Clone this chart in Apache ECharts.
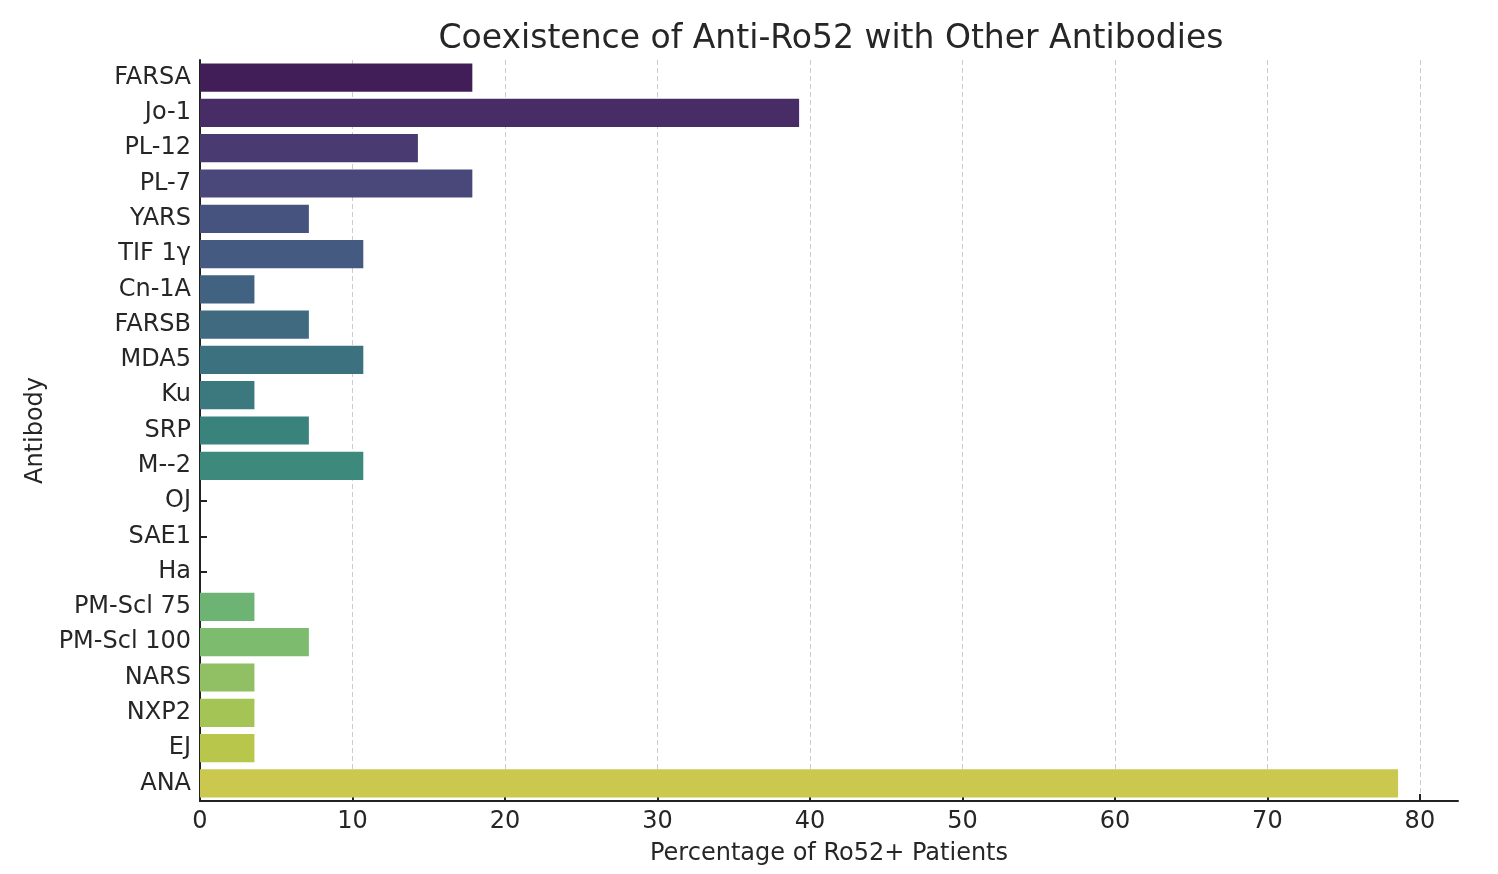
<!DOCTYPE html>
<html>
<head>
<meta charset="utf-8">
<script src="https://cdn.jsdelivr.net/npm/echarts@6/dist/echarts.min.js"></script>
<style>
  html, body { margin: 0; padding: 0; background: #ffffff; }
  #chart { width: 1498px; height: 874px; }
</style>
</head>
<body>
<div id="chart"></div>
<script>
const titleText = 'Coexistence of Anti-Ro52 with Other Antibodies';
const xAxisName = 'Percentage of Ro52+ Patients';
const yAxisName = 'Antibody';
const categories = ['FARSA', 'Jo-1', 'PL-12', 'PL-7', 'YARS', 'TIF 1γ', 'Cn-1A', 'FARSB', 'MDA5', 'Ku', 'SRP', 'M--2', 'OJ', 'SAE1', 'Ha', 'PM-Scl 75', 'PM-Scl 100', 'NARS', 'NXP2', 'EJ', 'ANA'];
const values = [17.86, 39.29, 14.29, 17.86, 7.14, 10.71, 3.57, 7.14, 10.71, 3.57, 7.14, 10.71, 0, 0, 0, 3.57, 7.14, 3.57, 3.57, 3.57, 78.57];
const barColors = ['#421e58', '#472c66', '#493a71', '#4a477a', '#46537e', '#445a80', '#416381', '#3f6a80', '#3c717f', '#3b797f', '#3a827c', '#3d8a7d', '#42937b', '#4e9e78', '#5ea974', '#6db373', '#7dbb6e', '#90c063', '#a5c456', '#b8c74c', '#cac84e'];
const xTicks = [0, 10, 20, 30, 40, 50, 60, 70, 80];
const xMax = 82.5;

const font = 'DejaVu Sans';
const textColor = '#262626';

const chart = echarts.init(document.getElementById('chart'), null, { renderer: 'canvas' });
chart.setOption({
  backgroundColor: '#ffffff',
  animation: false,
  title: {
    text: titleText,
    left: 826,
    top: 18,
    textAlign: 'center',
    textStyle: { fontFamily: font, fontSize: 33, fontWeight: 'normal', color: textColor }
  },
  grid: { left: 200, right: 40, top: 60, bottom: 73, containLabel: false, outerBoundsMode: 'none' },
  xAxis: {
    type: 'value',
    min: 0,
    max: xMax,
    interval: 10,
    name: xAxisName,
    nameLocation: 'middle',
    nameGap: 41,
    nameTextStyle: { fontFamily: font, fontSize: 24, color: textColor },
    axisLine: { show: true, lineStyle: { color: '#222222', width: 2 } },
    axisTick: { show: true, inside: true, length: 7, lineStyle: { color: '#222222', width: 2 }, customValues: xTicks },
    axisLabel: { fontFamily: font, fontSize: 24, color: textColor, margin: 9, customValues: xTicks },
    splitLine: { show: true, lineStyle: { color: '#cccccc', width: 1, type: [5, 3] } }
  },
  yAxis: {
    type: 'category',
    data: categories,
    inverse: true,
    name: yAxisName,
    nameLocation: 'middle',
    nameGap: 151,
    nameRotate: 90,
    nameTextStyle: { fontFamily: font, fontSize: 24, color: textColor },
    axisLine: { show: true, lineStyle: { color: '#222222', width: 2 } },
    axisTick: { show: true, inside: true, length: 7, alignWithLabel: true, lineStyle: { color: '#222222', width: 2 } },
    axisLabel: { fontFamily: font, fontSize: 24, color: textColor, margin: 9, padding: [4, 0, 0, 0] },
    splitLine: { show: false }
  },
  series: [{
    type: 'bar',
    data: values.map((v, i) => ({ value: v, itemStyle: { color: barColors[i] } })),
    barCategoryGap: '20%',
    silent: true
  }]
});
</script>
</body>
</html>
